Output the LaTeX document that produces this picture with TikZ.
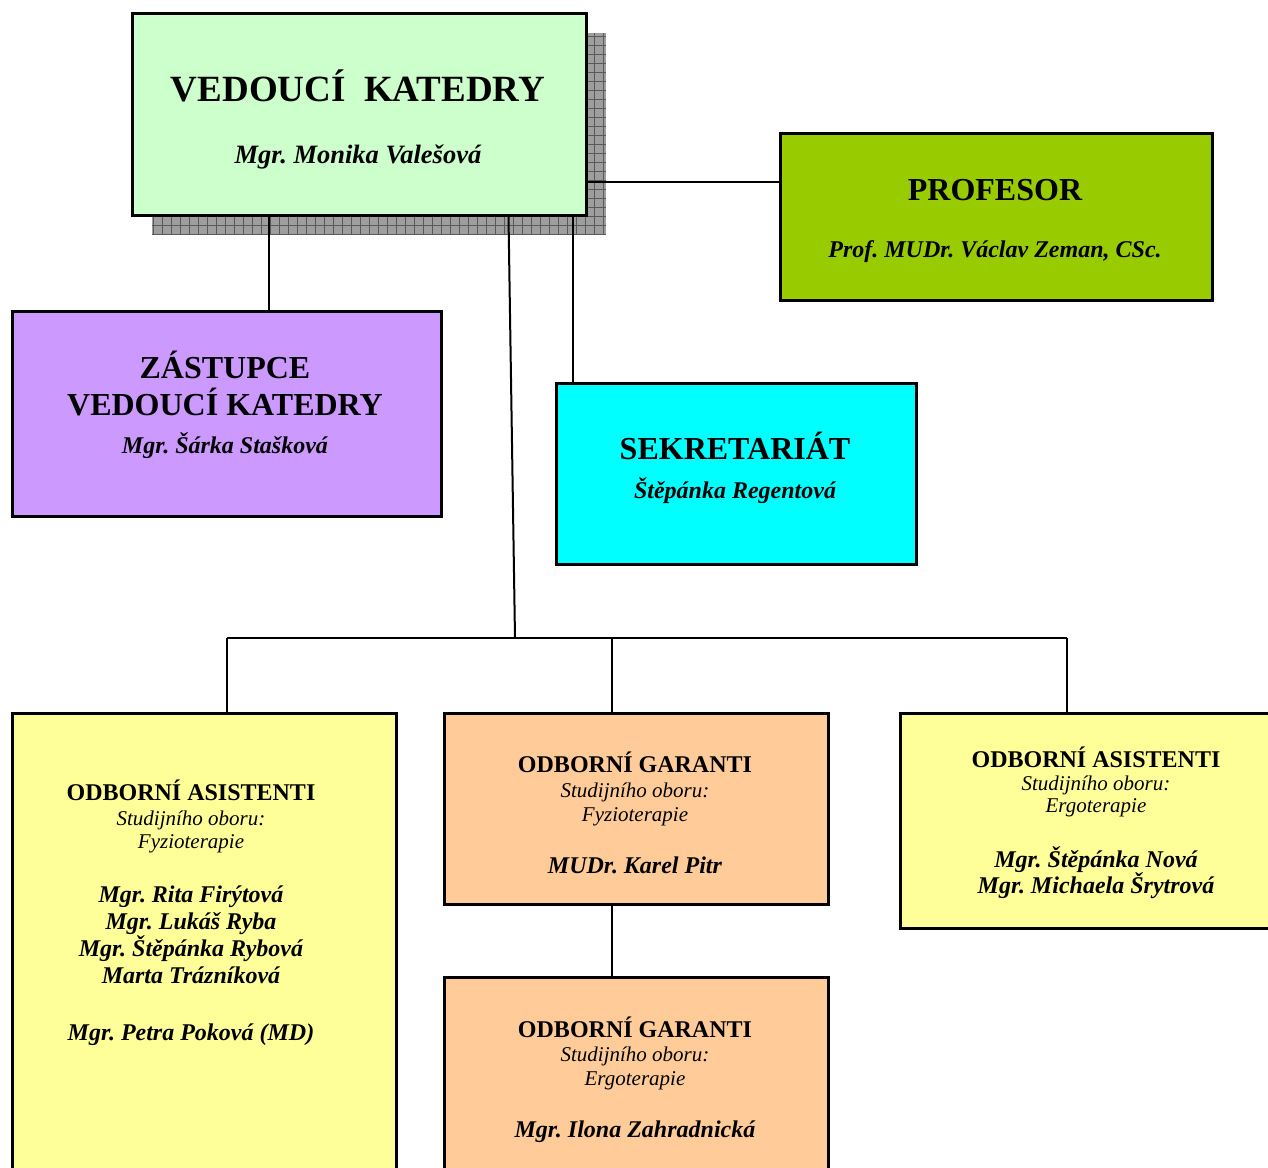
\documentclass[tikz,border=0pt]{standalone}
\usepackage{fontspec}
\setmainfont{Liberation Serif}
\frenchspacing
\definecolor{vedcol}{HTML}{CCFFCC}
\definecolor{profcol}{HTML}{99CC00}
\definecolor{zastcol}{HTML}{CC99FF}
\definecolor{sekrcol}{HTML}{00FFFF}
\definecolor{asiscol}{HTML}{FFFF99}
\definecolor{garcol}{HTML}{FFCC99}
\tikzset{
  box/.style={draw, line width=2.5pt, anchor=north west, inner sep=0pt},
  txt/.style={align=flush center, anchor=base, inner sep=0pt}
}
\newcommand{\obor}[1]{{\itshape\fontsize{21}{23}\selectfont #1}}
\newcommand{\jmeno}[1]{{\bfseries\itshape #1}}
\begin{document}
\begin{tikzpicture}[x=1pt, y=-1pt, line width=2pt]
\useasboundingbox (0,0) rectangle (1268,1167);
% stin pod hlavnim boxem
\fill[black!38] (152,33) rectangle (606,235);
\draw[black!65, line width=0.8pt, step=9pt] (152,33) grid (606,235);
% boxy
\node[box, line width=3pt, fill=vedcol, minimum width=454, minimum height=202] (vedouci) at (131,12) {};
\node[box, fill=profcol, minimum width=432, minimum height=167] (profesor) at (779,132) {};
\node[box, fill=zastcol, minimum width=429, minimum height=205] (zastupce) at (11,310) {};
\node[box, fill=sekrcol, minimum width=360, minimum height=181] (sekretariat) at (555,382) {};
\node[box, fill=asiscol, minimum width=384, minimum height=490] (asistfy) at (11,712) {};
\node[box, fill=garcol, minimum width=384, minimum height=191] (garantfy) at (443,712) {};
\node[box, fill=garcol, minimum width=384, minimum height=230] (garanter) at (443,976) {};
\node[box, fill=asiscol, minimum width=400, minimum height=215] (asister) at (899,712) {};
% texty
\node[txt, text width=440, font=\bfseries\fontsize{37}{62}\selectfont] (vedoucitxt) at (358,101)
  {VEDOUCÍ\ \ KATEDRY\\{\itshape\fontsize{26.5}{30}\selectfont Mgr. Monika Valešová}};
\node[txt, text width=420, font=\bfseries\fontsize{32}{57}\selectfont] (profesortxt) at (995,200)
  {PROFESOR\\{\itshape\fontsize{24}{27}\selectfont Prof. MUDr. Václav Zeman, CSc.}};
\node[txt, text width=420, font=\bfseries\fontsize{32}{37.5}\selectfont] (zastupcetxt) at (225,378)
  {ZÁSTUPCE\\VEDOUCÍ KATEDRY\\{\itshape\fontsize{24}{27}\selectfont Mgr. Šárka Stašková}};
\node[txt, text width=350, font=\bfseries\fontsize{32}{39}\selectfont] (sekretariattxt) at (735,459)
  {SEKRETARIÁT\\{\itshape\fontsize{24}{27}\selectfont Štěpánka Regentová}};
\node[txt, text width=370, font=\fontsize{24}{27}\selectfont] (asistfytxt) at (191,800)
  {\textbf{ODBORNÍ ASISTENTI}\\[-2pt]\obor{Studijního oboru:}\\[-4pt]\obor{Fyzioterapie}\\[27pt]
   \jmeno{Mgr. Rita Firýtová}\\\jmeno{Mgr. Lukáš Ryba}\\\jmeno{Mgr. Štěpánka Rybová}\\
   \jmeno{Marta Trázníková}\\[30pt]\jmeno{Mgr. Petra Poková (MD)}};
\node[txt, text width=370, font=\fontsize{24}{27}\selectfont] (garantfytxt) at (635,772)
  {\textbf{ODBORNÍ GARANTI}\\[-2pt]\obor{Studijního oboru:}\\[-3pt]\obor{Fyzioterapie}\\[25pt]
   \jmeno{MUDr. Karel Pitr}};
\node[txt, text width=370, font=\fontsize{24}{27}\selectfont] (garantertxt) at (635,1037)
  {\textbf{ODBORNÍ GARANTI}\\[-3pt]\obor{Studijního oboru:}\\[-3pt]\obor{Ergoterapie}\\[25pt]
   \jmeno{Mgr. Ilona Zahradnická}};
\node[txt, text width=370, font=\fontsize{24}{26}\selectfont] (asistertxt) at (1096,767)
  {\textbf{ODBORNÍ ASISTENTI}\\[-3pt]\obor{Studijního oboru:}\\[-4pt]\obor{Ergoterapie}\\[29pt]
   \jmeno{Mgr. Štěpánka Nová}\\\jmeno{Mgr. Michaela Šrytrová}};
% spojnice
\coordinate (hub) at (515,638);
\coordinate (barl) at (227,638);
\coordinate (barr) at (1067,638);
\draw ([xshift=-91]vedouci.south) -- ([xshift=-91]vedouci.south |- zastupce.north);
\draw ([xshift=213]vedouci.south) -- ([xshift=213]vedouci.south |- sekretariat.north);
\draw ([xshift=149]vedouci.south) -- (hub);
\draw ([yshift=-67]vedouci.east) -- ([yshift=-67]vedouci.east -| profesor.west);
\draw (barl) -- (barr);
\draw (barl) -- (barl |- asistfy.north);
\draw ([xshift=-24]garantfy.north |- barl) -- ([xshift=-24]garantfy.north);
\draw (barr) -- (barr |- asister.north);
\draw ([xshift=-24]garantfy.south) -- ([xshift=-24]garantfy.south |- garanter.north);
\end{tikzpicture}
\end{document}
